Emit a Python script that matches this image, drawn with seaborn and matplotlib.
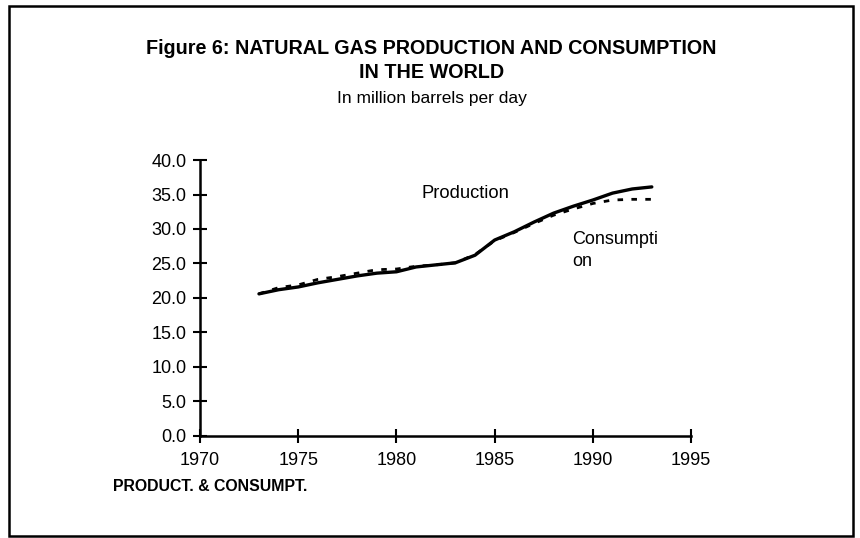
import matplotlib
matplotlib.use("Agg")
import matplotlib.pyplot as plt
import matplotlib.patches as mpatches
import seaborn as sns
import pandas as pd

# Data (million barrels per day)
years = list(range(1973, 1994))
production = [20.6, 21.2, 21.6, 22.2, 22.7, 23.2, 23.6, 23.8, 24.5, 24.8, 25.1,
              26.2, 28.4, 29.6, 31.0, 32.3, 33.3, 34.2, 35.2, 35.8, 36.1]
consumption = [20.6, 21.5, 21.9, 22.7, 23.1, 23.6, 24.1, 24.2, 24.6, 24.8, 25.1,
               26.3, 28.3, 29.5, 30.8, 32.0, 32.9, 33.7, 34.2, 34.3, 34.3]
x_ticks = [1970, 1975, 1980, 1985, 1990, 1995]
y_ticks = [0, 5, 10, 15, 20, 25, 30, 35, 40]

df = pd.DataFrame({"year": years, "Production": production, "Consumption": consumption})

sns.set_style("white")
plt.rcParams["font.family"] = ["Liberation Sans Narrow", "Liberation Sans", "DejaVu Sans"]
plt.rcParams["text.color"] = "black"
plt.rcParams["xtick.color"] = "black"
plt.rcParams["ytick.color"] = "black"

fig = plt.figure(figsize=(8.6, 5.38), dpi=100)
ax = fig.add_axes([0.2326, 0.1896, 0.571, 0.513])

sns.lineplot(data=df, x="year", y="Production", ax=ax, color="black", linewidth=2.4)
sns.lineplot(data=df, x="year", y="Consumption", ax=ax, color="black",
             linewidth=2.0, linestyle=(0, (2, 3)))

ax.set_xlim(1970, 1995)
ax.set_ylim(0, 40)
ax.set_xticks(x_ticks)
ax.set_yticks(y_ticks)
ax.set_yticklabels([f"{v:.1f}" for v in y_ticks])
ax.set_xlabel("")
ax.set_ylabel("")
for side in ["top", "right"]:
    ax.spines[side].set_visible(False)
for side in ["left", "bottom"]:
    ax.spines[side].set_color("black")
    ax.spines[side].set_linewidth(1.8)
ax.tick_params(bottom=True, left=True, direction="inout", length=9.5, width=1.5,
               labelsize=13)
ax.tick_params(axis="x", pad=7)
ax.tick_params(axis="y", pad=5)

ax.text(1981.3, 35.2, "Production", fontsize=13.2, va="center")
ax.text(1988.95, 29.7, "Consumpti\non", fontsize=13, va="top", linespacing=1.35)

fig.text(0.502, 0.909, "Figure 6: NATURAL GAS PRODUCTION AND CONSUMPTION",
         ha="center", va="center", fontsize=14.2, fontweight="bold")
fig.text(0.502, 0.866, "IN THE WORLD", ha="center", va="center",
         fontsize=14.2, fontweight="bold")
fig.text(0.502, 0.817, "In million barrels per day", ha="center", va="center",
         fontsize=12.5)
fig.text(0.131, 0.095, "PRODUCT. & CONSUMPT.", ha="left", va="center",
         fontsize=11.4, fontweight="bold")

fig.patches.append(mpatches.Rectangle((0.011, 0.004), 0.981, 0.985,
                                      transform=fig.transFigure, fill=False,
                                      edgecolor="black", linewidth=1.8))

fig.savefig("out.png", dpi=100)
